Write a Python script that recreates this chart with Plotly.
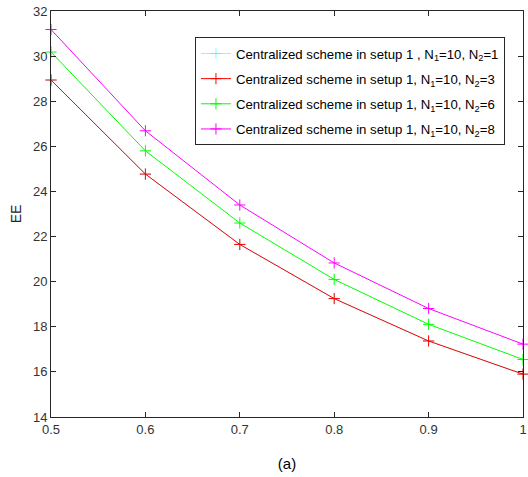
import plotly.graph_objects as go

x_vals = [0.5, 0.6, 0.7, 0.8, 0.9, 1.0]
ee_n2_1 = [28.94, 24.77, 21.65, 19.25, 17.37, 15.90]
ee_n2_3 = [28.94, 24.77, 21.65, 19.25, 17.37, 15.90]
ee_n2_6 = [30.18, 25.80, 22.60, 20.10, 18.11, 16.55]
ee_n2_8 = [31.18, 26.69, 23.40, 20.83, 18.81, 17.23]

x_ticks = [0.5, 0.6, 0.7, 0.8, 0.9, 1.0]
x_tick_text = ["0.5", "0.6", "0.7", "0.8", "0.9", "1"]
y_ticks = [14, 16, 18, 20, 22, 24, 26, 28, 30, 32]

names = [
    "Centralized scheme in setup 1 , N<sub>1</sub>=10, N<sub>2</sub>=1",
    "Centralized scheme in setup 1, N<sub>1</sub>=10, N<sub>2</sub>=3",
    "Centralized scheme in setup 1, N<sub>1</sub>=10, N<sub>2</sub>=6",
    "Centralized scheme in setup 1, N<sub>1</sub>=10, N<sub>2</sub>=8",
]
colors = ["#00FFFF", "#FF0000", "#00FF00", "#FF00FF"]
widths = [0.5, 1, 1, 1]
series = [ee_n2_1, ee_n2_3, ee_n2_6, ee_n2_8]

fig = go.Figure()
for i, (nm, c, w, ys) in enumerate(zip(names, colors, widths, series)):
    fig.add_trace(go.Scatter(
        x=x_vals, y=ys, name=nm, mode="lines+markers",
        line=dict(color=c, width=w),
        marker=dict(symbol="cross-thin", size=8, line=dict(color=c, width=w)),
        legendgroup=f"g{i}", cliponaxis=False,
    ))

axis_common = dict(
    showline=True, linecolor="#262626", linewidth=1, mirror="ticks",
    ticks="inside", ticklen=5, tickcolor="#262626", showgrid=False,
    zeroline=False, ticklabeloverflow="allow",
    tickfont=dict(family="Liberation Sans, Arial", size=13, color="#333333"),
)

fig.update_layout(
    width=528, height=477,
    margin=dict(l=51, r=1, t=11, b=60),
    plot_bgcolor="white", paper_bgcolor="white",
    font=dict(family="Liberation Sans, Arial", color="#262626"),
    xaxis=dict(range=[0.5, 1.0], tickvals=x_ticks, ticktext=x_tick_text,
               title=dict(text="(a)", font=dict(size=15, color="#000000"), standoff=22),
               **axis_common),
    yaxis=dict(range=[14, 32], tickvals=y_ticks,
               title=dict(text="EE", font=dict(size=14, color="#262626"), standoff=8),
               **axis_common),
    showlegend=True,
    legend=dict(x=0.305, y=0.935, xanchor="left", yanchor="top",
                bgcolor="white", bordercolor="#262626", borderwidth=1,
                font=dict(family="Liberation Sans, Arial", size=13.2, color="#000000"),
                traceorder="grouped", tracegroupgap=5, itemwidth=30),
)

fig.write_html("out.html")
